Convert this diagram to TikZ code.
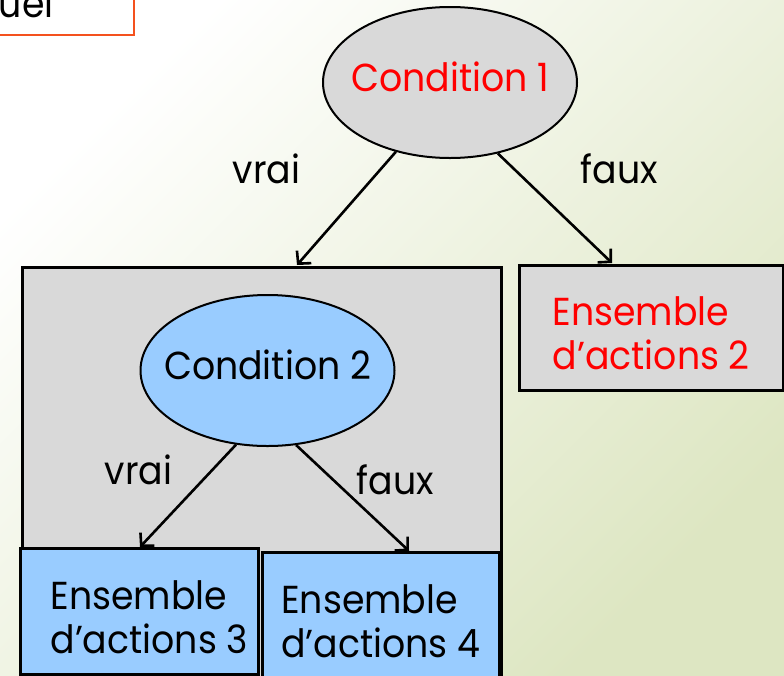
\documentclass[tikz,border=0pt]{standalone}
\usepackage{fontspec}
\setmainfont{Poppins}[FakeStretch=0.93]
\usetikzlibrary{shapes.geometric,arrows.meta}
\definecolor{boxgray}{HTML}{D9D9D9}
\definecolor{condblue}{HTML}{99CCFF}
\definecolor{bgend}{HTML}{DDE6C2}
\definecolor{titlered}{HTML}{F4511E}
\newcommand{\boxlift}{\rule{0pt}{40pt}}

\begin{document}
\begin{tikzpicture}[x=1pt,y=-1pt,
  every node/.style={font=\fontsize{39}{44}\selectfont},
  cond/.style={ellipse,draw,line width=2pt,inner sep=0pt,minimum width=254pt,minimum height=151pt,text depth=11pt},
  actions/.style={draw,line width=2.5pt,anchor=north west,align=left,inner sep=0pt},
  branch/.style={line width=2.6pt,-{Straight Barb[length=9pt,width=19pt]}}]
  \useasboundingbox (0,0) rectangle (784,675);
  \clip (0,0) rectangle (784,675);
  \shade[top color=white,bottom color=bgend,shading angle=45] (0,0) rectangle (784,675);

  %title
  \draw[titlered,line width=2pt] (-20,-20) rectangle (134,35);
  \node[anchor=base east] (title) at (57,17) {uel};

  %top
  \node[cond,fill=boxgray,text=red] (c1) at (450,82.5) {\makebox[0pt]{Condition 1}};
  \node[actions,fill=boxgray,text=red,minimum width=264pt,minimum height=125pt] (e2) at (518,264) {\boxlift Ensemble\\d’actions 2};
  \node[draw,line width=2.5pt,fill=boxgray,anchor=north west,minimum width=479pt,minimum height=440pt] (big) at (21,266) {};
  \node[anchor=base] (v1) at (266.5,183) {vrai};
  \node[anchor=base] (f1) at (619.5,183) {faux};

  %inner
  \node[cond,fill=condblue] (c2) at (267.5,370.5) {\makebox[0pt]{Condition 2}};
  \node[actions,fill=condblue,minimum width=238pt,minimum height=126pt] (e3) at (19,547) {\boxlift\hspace*{20pt}Ensemble\\\hspace*{20pt}d’actions 3};
  \node[actions,fill=condblue,minimum width=237pt,minimum height=126pt] (e4) at (261,551) {\boxlift Ensemble\\d’actions 4};
  \node[anchor=base] (v2) at (138.5,484) {vrai};
  \node[anchor=base] (f2) at (395.5,494) {faux};

  %arrows
  \coordinate (t1) at (297,265);
  \coordinate (t2) at (612,263);
  \coordinate (t3) at (140,547);
  \coordinate (t4) at (409,551);
  \draw[branch] (c1.232) -- (t1);
  \draw[branch] (c1.304) -- (t2);
  \draw[branch] (c2.247) -- (t3);
  \draw[branch] (c2.291) -- (t4);
\end{tikzpicture}
\end{document}
